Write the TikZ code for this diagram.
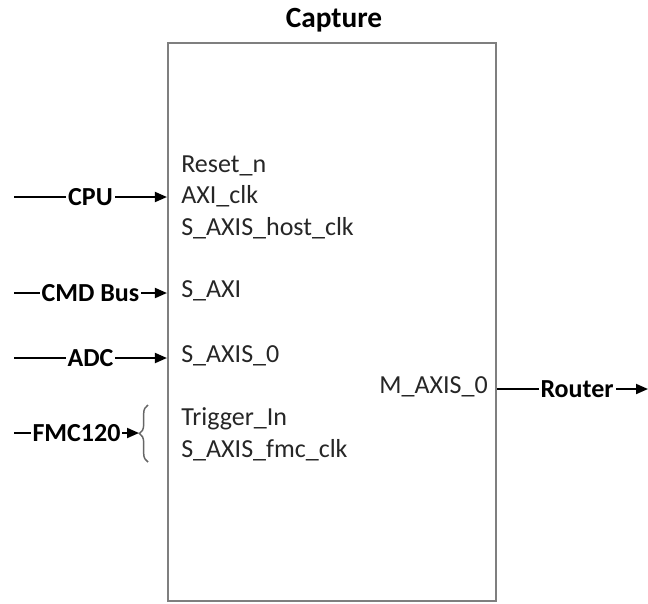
\documentclass[tikz,border=0pt]{standalone}
\usepackage{fontspec}
\setmainfont{Carlito}
\usepackage{xcolor}
\usepackage{tikz}
\usetikzlibrary{arrows.meta, positioning, decorations.pathreplacing}
\definecolor{boxgray}{HTML}{7F7F7F}
\definecolor{ink}{HTML}{262626}

\begin{document}
\begin{tikzpicture}[
    x=0.75pt, y=-0.75pt,
    blk/.style={draw=boxgray, line width=1.6pt, minimum width=246pt, minimum height=418.5pt, inner sep=0pt},
    port/.style={anchor=base west, inner sep=0pt, font=\fontsize{19.5}{22}\selectfont, text=ink},
    sig/.style={fill=white, inner sep=1.5pt, font=\fontsize{19.5}{22}\selectfont\bfseries, text=black},
    arr/.style={-{Triangle[length=9pt, width=7.5pt]}, line width=1.4pt, color=black},
    brc/.style={decorate, decoration={brace, amplitude=6.5pt}, line width=1.1pt, color=boxgray!80!black},
  ]
  \useasboundingbox (0,0) rectangle (648,603);
  \node[blk] (cap) at (332,322) {};
  \node[font=\fontsize{22}{24}\selectfont\bfseries, text=black] (title) at (334,20) {Capture};
  % ports inside the block
  \node[port] (rst)   at (181,172) {Reset\_n};
  \node[port] (axclk) at (181,203) {AXI\_clk};
  \node[port] (hclk)  at (181,235) {S\_AXIS\_host\_clk};
  \node[port] (saxi)  at (181,297) {S\_AXI};
  \node[port] (saxis) at (181,362) {S\_AXIS\_0};
  \node[port] (trig)  at (181,425) {Trigger\_In};
  \node[port] (fclk)  at (181,457) {S\_AXIS\_fmc\_clk};
  \node[port, anchor=base east] (maxis) at (488,393) {M\_AXIS\_0};
  % free ends
  \coordinate (cpu) at (14,197);
  \coordinate (cmd) at (14,293);
  \coordinate (adc) at (14,358);
  \coordinate (fmc) at (14,433);
  \coordinate (brtip) at (139,433);
  \coordinate (rout) at (648,389);
  \draw[brc] (148,462) -- (148,405);
  \draw[arr] (cpu) -- node[sig] {CPU} (cpu -| cap.west);
  \draw[arr] (cmd) -- node[sig] {CMD Bus} (cmd -| cap.west);
  \draw[arr] (adc) -- node[sig] {ADC} (adc -| cap.west);
  \draw[arr] (fmc) -- node[sig] {FMC120} (brtip);
  \draw[arr] (cap.east |- rout) -- node[sig, pos=0.53] {Router} (rout);
\end{tikzpicture}
\end{document}
